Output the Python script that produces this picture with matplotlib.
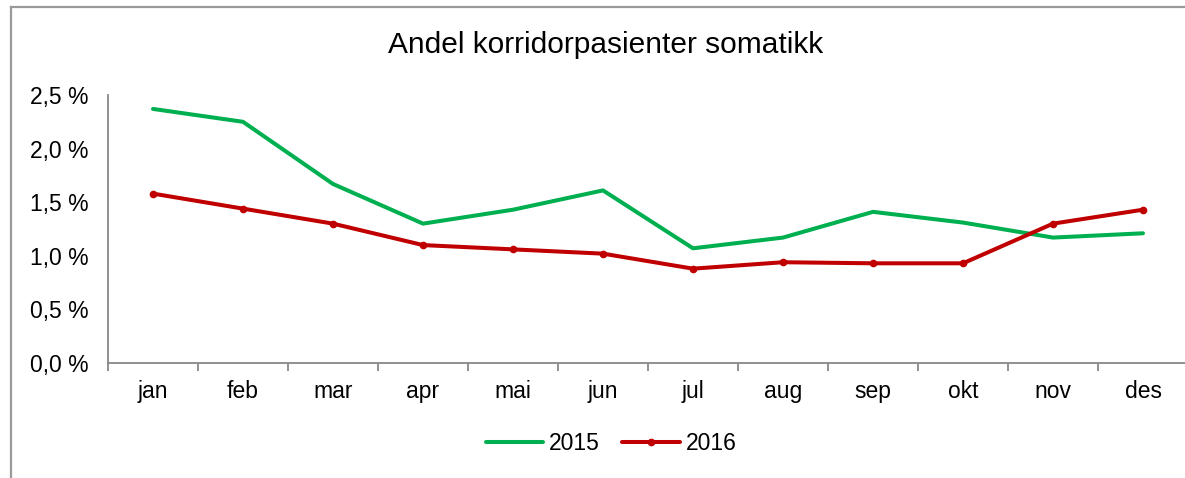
import matplotlib
matplotlib.use("Agg")
import matplotlib.pyplot as plt
from matplotlib.ticker import FuncFormatter, FixedLocator
from matplotlib.lines import Line2D
import numpy as np

months = ["jan", "feb", "mar", "apr", "mai", "jun", "jul", "aug", "sep", "okt", "nov", "des"]
y2015 = [2.37, 2.25, 1.67, 1.30, 1.43, 1.61, 1.07, 1.17, 1.41, 1.31, 1.17, 1.21]
y2016 = [1.58, 1.44, 1.30, 1.10, 1.06, 1.02, 0.88, 0.94, 0.93, 0.93, 1.30, 1.43]
yticks = [0.0, 0.5, 1.0, 1.5, 2.0, 2.5]

plt.rcParams['font.family'] = ['Liberation Sans', 'DejaVu Sans']

W, H = 1185, 478
fig = plt.figure(figsize=(W / 100, H / 100), dpi=100)

# outer chart border (only left/top visible)
fig.add_artist(Line2D([11 / W, 11 / W], [0, 1 - 7 / H], transform=fig.transFigure,
                      color="#9a9a9a", lw=1.6))
fig.add_artist(Line2D([11 / W, 1.0], [1 - 7 / H, 1 - 7 / H], transform=fig.transFigure,
                      color="#9a9a9a", lw=1.6))

left, right, top, bottom = 108, 1188, 95, 363
ax = fig.add_axes([left / W, 1 - bottom / H, (right - left) / W, (bottom - top) / H])

x = np.arange(len(months))
ax.plot(x, y2015, color="#00B050", lw=2.9, label="2015", solid_capstyle="round")
ax.plot(x, y2016, color="#C00000", lw=2.9, marker="o", markersize=4.5, label="2016",
        solid_capstyle="round")

ax.set_xlim(-0.5, len(months) - 0.5)
ax.set_ylim(0, 2.5)

ax.set_yticks(yticks)
ax.yaxis.set_major_formatter(FuncFormatter(lambda v, p: f"{v:.1f} %".replace(".", ",")))
ax.tick_params(axis="y", length=0, pad=14, labelsize=16.5)

ax.xaxis.set_major_locator(FixedLocator(np.arange(len(months) + 1) - 0.5))
ax.xaxis.set_major_formatter(FuncFormatter(lambda v, p: ""))
ax.xaxis.set_minor_locator(FixedLocator(x))
ax.set_xticklabels(months, minor=True)
ax.tick_params(axis="x", which="major", direction="out", length=6, width=1.3, color="#888888")
ax.tick_params(axis="x", which="minor", length=0, pad=12, labelsize=16.5)

for s in ["top", "right"]:
    ax.spines[s].set_visible(False)
for s in ["left", "bottom"]:
    ax.spines[s].set_color("#888888")
    ax.spines[s].set_linewidth(1.3)
ax.spines["bottom"].set_clip_on(False)

fig.text(605.5 / W, 1 - 45 / H, "Andel korridorpasienter somatikk", ha="center", va="center",
         fontsize=21.5)

fig.legend(loc="center", bbox_to_anchor=(611 / W, 1 - 444 / H), ncol=2, frameon=False,
           fontsize=16.5, handlelength=2.5, handletextpad=0.25, columnspacing=1.0,
           numpoints=1)

fig.savefig("out.png", dpi=100)
